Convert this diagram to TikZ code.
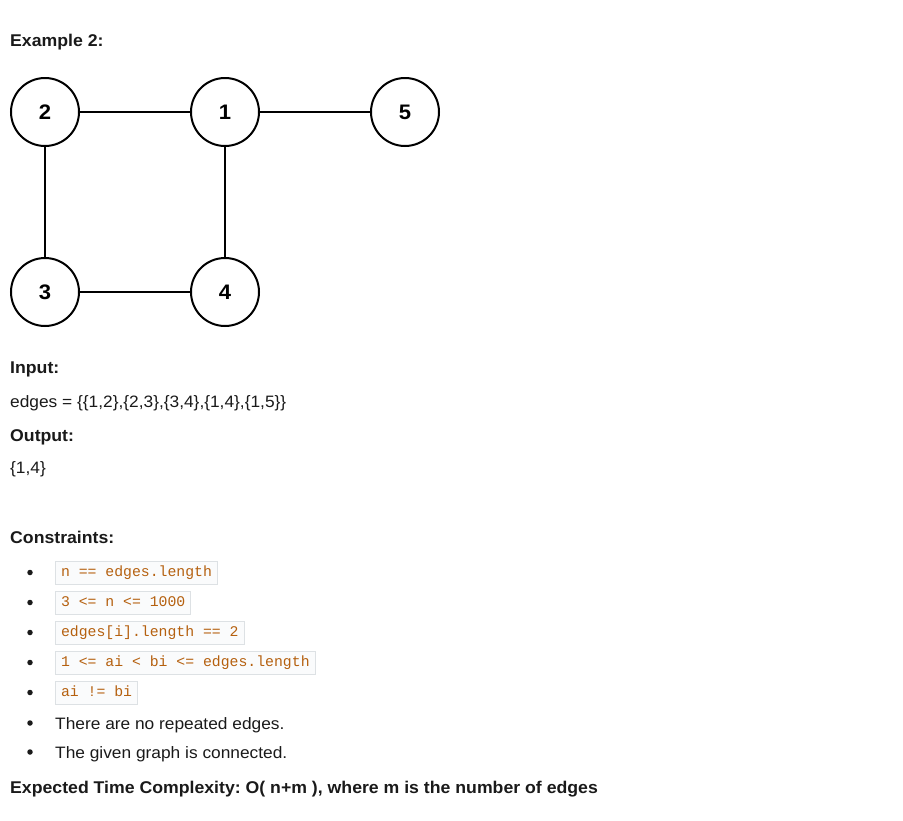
\documentclass[tikz,border=0pt]{standalone}
\usepackage{fontspec}
\setmainfont{Liberation Sans}[FakeStretch=1.05]
\setmonofont{Liberation Mono}
\newfontfamily\headfont{Liberation Sans}[FakeStretch=1.04]
\frenchspacing

\definecolor{Ink}{HTML}{1A1A1A}
\definecolor{Code}{HTML}{B5600F}
\definecolor{CodeBorder}{HTML}{DDE1E4}
\definecolor{CodeBack}{HTML}{FAFBFC}

\tikzset{
  vertex/.style={circle, draw=black, line width=2pt, fill=white, minimum size=68pt, inner sep=0pt, font=\fontsize{21}{24}\selectfont\bfseries},
  link/.style={line width=1.6pt},
  txt/.style={anchor=base west, inner sep=0pt, text=Ink, font=\fontsize{16.5}{19}\selectfont},
  head/.style={txt, font=\headfont\fontsize{17}{20}\selectfont\bfseries},
  codebox/.style={anchor=west, draw=CodeBorder, fill=CodeBack, line width=1pt, text=Code, inner xsep=5.5pt, inner ysep=4.5pt, text height=11pt, text depth=3pt, font=\fontsize{14.8}{17}\selectfont\ttfamily},
  dot/.style={circle, fill=Ink, inner sep=0pt, minimum size=5.5pt}
}

\begin{document}
\begin{tikzpicture}[x=1pt, y=-1pt]

 \useasboundingbox [fill=white] (0,0) rectangle (903,820);

 %%%%%%%%%% Title %%%%%%%%%%
 \node [head] (title) at (10,46) {Example 2:};

 %%%%%%%%%% Graph %%%%%%%%%%
 \node [vertex] (2) at (45,112) {2};
 \node [vertex] (1) at (225,112) {1};
 \node [vertex] (5) at (405,112) {5};
 \node [vertex] (3) at (45,292) {3};
 \node [vertex] (4) at (225,292) {4};

 \draw [link] (2) -- (1) ;
 \draw [link] (1) -- (5) ;
 \draw [link] (2) -- (3) ;
 \draw [link] (3) -- (4) ;
 \draw [link] (1) -- (4) ;

 %%%%%%%%%% Input / Output %%%%%%%%%%
 \node [head] (input) at (10,373) {Input:};
 \node [txt] (edges) at (10,407) {edges = \{\{1,2\},\{2,3\},\{3,4\},\{1,4\},\{1,5\}\}};
 \node [head] (output) at (10,441) {Output:};
 \node [txt] (answer) at (10,473) {\{1,4\}};

 %%%%%%%%%% Constraints %%%%%%%%%%
 \node [head] (constraints) at (10,543) {Constraints:};

 \node [dot] (b1) at (30,572.5) {};
 \node [dot] (b2) at (30,602.5) {};
 \node [dot] (b3) at (30,632.5) {};
 \node [dot] (b4) at (30,662.5) {};
 \node [dot] (b5) at (30,692.5) {};
 \node [dot] (b6) at (30,723) {};
 \node [dot] (b7) at (30,752) {};

 \node [codebox] (c1) at (55,572.5) {n == edges.length};
 \node [codebox] (c2) at (55,602.5) {3 <= n <= 1000};
 \node [codebox] (c3) at (55,632.5) {edges[i].length == 2};
 \node [codebox] (c4) at (55,662.5) {1 <= ai < bi <= edges.length};
 \node [codebox] (c5) at (55,692.5) {ai != bi};

 \node [txt] (c6) at (55,729) {There are no repeated edges.};
 \node [txt] (c7) at (55,758) {The given graph is connected.};

 %%%%%%%%%% Complexity %%%%%%%%%%
 \node [head] (complexity) at (10,793) {Expected Time Complexity: O( n+m ), where m is the number of edges};

\end{tikzpicture}
\end{document}
